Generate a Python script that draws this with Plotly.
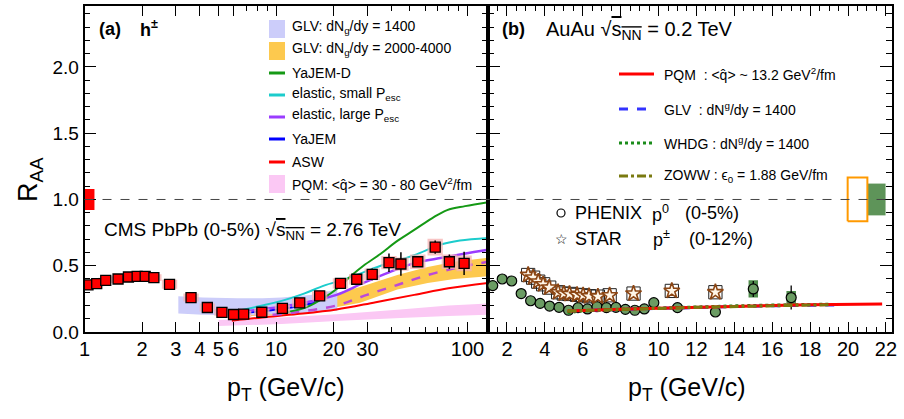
import plotly.graph_objects as go

W, H = 904, 419
FONT = "Liberation Sans, Arial, Helvetica, sans-serif"
NARROW = "Liberation Sans Narrow, Arial Narrow, Liberation Sans, Arial, sans-serif"

# ---------------- data: panel (a) CMS PbPb ----------------
cms_pt = [1.043, 1.158, 1.291, 1.497, 1.696, 1.883, 2.074, 2.303, 2.78, 3.6, 4.38, 5.22, 6.0,
          6.78, 8.43, 10.8, 13.3, 16.9, 21.7, 26.4, 31.8, 38.9, 44.9, 55.0, 67.8, 80.4, 96.0]
cms_raa = [0.355, 0.365, 0.39, 0.40, 0.415, 0.42, 0.42, 0.41, 0.36, 0.26, 0.185, 0.148, 0.132,
           0.135, 0.149, 0.178, 0.22, 0.273, 0.367, 0.398, 0.435, 0.523, 0.513, 0.53, 0.64, 0.53, 0.518]
cms_stat = [0.005, 0.005, 0.005, 0.005, 0.005, 0.005, 0.005, 0.005, 0.005, 0.005, 0.005, 0.005, 0.005,
            0.005, 0.005, 0.006, 0.008, 0.01, 0.015, 0.03, 0.045, 0.07, 0.088, 0.02, 0.05, 0.055, 0.088]
cms_syst = [0.02, 0.02, 0.02, 0.02, 0.02, 0.02, 0.022, 0.025, 0.034, 0.03, 0.03, 0.025, 0.025,
            0.025, 0.028, 0.03, 0.033, 0.035, 0.038, 0.04, 0.045, 0.05, 0.05, 0.054, 0.063, 0.055, 0.06]
cms_norm_pt = [1.0]
cms_norm_unc = [0.08]

# theory, panel (a)
glv1400_pt = [3.09, 4.15, 6.31, 8.51, 10.7, 15.1, 20.9]
glv1400_hi = [0.27, 0.26, 0.255, 0.255, 0.26, 0.28, 0.32]
glv1400_lo = [0.14, 0.13, 0.125, 0.13, 0.135, 0.145, 0.16]

glvhigh_pt = [7.4, 12.9, 19.3, 27.5, 43.0, 62.0, 85.4, 128.0]
glvhigh_hi = [0.16, 0.2, 0.28, 0.34, 0.43, 0.49, 0.53, 0.56]
glvhigh_lo = [0.12, 0.14, 0.18, 0.22, 0.32, 0.37, 0.40, 0.42]
glvhigh_mid_pt = [9.59, 12.9, 20.7, 29.8, 43.0, 62.0, 91.3, 128.0]
glvhigh_mid = [0.13, 0.15, 0.2, 0.28, 0.355, 0.43, 0.49, 0.53]

yajemd_pt = [10.1, 14.0, 17.4, 21.0, 24.5, 28.6, 35.2, 42.3, 52.7, 65.5, 78.3, 97.1, 128.0]
yajemd_raa = [0.14, 0.18, 0.25, 0.33, 0.42, 0.5, 0.59, 0.68, 0.77, 0.86, 0.92, 0.95, 0.98]

el_small_pt = [6.53, 8.49, 10.7, 14.0, 17.8, 23.6, 31.0, 35.2, 52.7, 72.5, 91.3, 128.0]
el_small_raa = [0.165, 0.2, 0.235, 0.29, 0.35, 0.405, 0.47, 0.5, 0.58, 0.66, 0.69, 0.71]

el_large_pt = [6.31, 10.7, 15.1, 20.7, 28.6, 38.9, 52.7, 73.7, 95.9, 128.0]
el_large_raa = [0.15, 0.19, 0.23, 0.28, 0.37, 0.45, 0.52, 0.56, 0.59, 0.62]

yajem_pt = [6.3, 9.0, 12.0, 16.0]
yajem_raa = [0.14, 0.16, 0.185, 0.22]

asw_pt = [5.88, 8.49, 12.9, 20.7, 33.2, 52.7, 79.5, 128.0]
asw_raa = [0.085, 0.11, 0.135, 0.17, 0.225, 0.28, 0.33, 0.37]

pqm_lhc_pt = [5.01, 10.7, 21.8, 44.6, 79.5, 128.0]
pqm_lhc_hi = [0.09, 0.11, 0.135, 0.17, 0.2, 0.215]
pqm_lhc_lo = [0.045, 0.06, 0.085, 0.105, 0.12, 0.13]

# ---------------- data: panel (b) AuAu ----------------
phenix_pt = [1.25, 1.75, 2.25, 2.75, 3.25, 3.75, 4.25, 4.75, 5.25, 5.75, 6.25, 6.75, 7.25, 7.75,
             8.25, 8.75, 9.25, 9.75, 11.0, 13.0, 15.0, 17.0]
phenix_raa = [0.35, 0.40, 0.385, 0.29, 0.236, 0.216, 0.196, 0.186, 0.164, 0.184, 0.174, 0.191,
              0.184, 0.186, 0.171, 0.164, 0.174, 0.221, 0.184, 0.151, 0.325, 0.26]
phenix_stat = [0.005] * 18 + [0.01, 0.03, 0.06, 0.09]
phenix_syst = [0.02] * 18 + [0.02, 0.02, 0.065, 0.05]

star_pt = [3.12, 3.38, 3.65, 3.91, 4.23, 4.7, 5.0, 5.3, 5.7, 6.02, 6.33, 6.8, 7.42, 8.68, 10.7, 13.0]
star_raa = [0.43, 0.41, 0.38, 0.36, 0.335, 0.30, 0.29, 0.287, 0.28, 0.277, 0.27, 0.267, 0.277,
            0.29, 0.31, 0.30]
star_syst = [0.05] * 16

phenix_norm_pt = [21.5]
phenix_norm_unc = [0.12]
star_norm_pt = [20.5]
star_norm_unc = [0.165]

pqm_rhic_pt = [5.2, 6, 8, 10, 12, 14, 16, 18, 20, 21.8]
pqm_rhic_raa = [0.158, 0.163, 0.171, 0.18, 0.188, 0.195, 0.2, 0.205, 0.209, 0.212]
glv_rhic_pt = [5.5, 6, 8, 10, 12, 14, 16, 18, 19.5]
glv_rhic_raa = [0.16, 0.163, 0.17, 0.178, 0.186, 0.193, 0.198, 0.202, 0.205]
whdg_pt = [5.2, 6, 8, 10, 12, 14, 16, 18, 19]
whdg_raa = [0.145, 0.16, 0.172, 0.182, 0.19, 0.197, 0.203, 0.208, 0.21]
zoww_pt = [5.2, 6, 8, 10, 12, 14, 16, 18, 19]
zoww_raa = [0.158, 0.162, 0.17, 0.178, 0.186, 0.193, 0.199, 0.204, 0.206]

x_ticks_a = [1, 2, 3, 4, 5, 6, 10, 20, 30, 100]
x_minor_a = [7, 8, 9, 40, 50, 60, 70, 80, 90]
x_ticks_b = list(range(2, 23, 2))

# ---------------- helpers ----------------
BOX_DEX = 0.04     # half width of CMS systematic boxes (log10 units)
NORM_DEX = 0.052   # width of CMS normalisation box (log10 units)
BOX_LIN_PH = 0.25  # half width PHENIX boxes
BOX_LIN_ST = 0.35  # half width STAR boxes


def rects(xc, yc, hx, hy, logx=False):
    xs, ys = [], []
    for x, y, dy in zip(xc, yc, hy):
        if logx:
            x0, x1 = x / 10 ** hx, x * 10 ** hx
        else:
            x0, x1 = x - hx, x + hx
        xs += [x0, x1, x1, x0, x0, None]
        ys += [y - dy, y - dy, y + dy, y + dy, y - dy, None]
    return xs, ys


def band(x, hi, lo):
    return list(x) + list(x)[::-1] + [x[0]], list(hi) + list(lo)[::-1] + [hi[0]]


def px(x):
    return x / W


def py(y):
    return 1 - y / H


fig = go.Figure()
A = dict(xaxis="x", yaxis="y")
B = dict(xaxis="x2", yaxis="y2")

# ---- panel (a) bands ----
bx, by = band(pqm_lhc_pt, pqm_lhc_hi, pqm_lhc_lo)
fig.add_trace(go.Scatter(x=bx, y=by, fill="toself", fillcolor="#fbc8f4", mode="none", **A))
bx, by = band(glvhigh_pt, glvhigh_hi, glvhigh_lo)
fig.add_trace(go.Scatter(x=bx, y=by, fill="toself", fillcolor="#fdc94e", mode="none", **A))
bx, by = band(glv1400_pt, glv1400_hi, glv1400_lo)
fig.add_trace(go.Scatter(x=bx, y=by, fill="toself", fillcolor="#cccdfa", mode="none", **A))

# ---- panel (a) lines ----
fig.add_trace(go.Scatter(x=yajem_pt, y=yajem_raa, mode="lines", line=dict(color="#0000ff", width=2), **A))
fig.add_trace(go.Scatter(x=asw_pt, y=asw_raa, mode="lines", line=dict(color="#ff0000", width=2), line_shape="spline", **A))
fig.add_trace(go.Scatter(x=glvhigh_mid_pt, y=glvhigh_mid, mode="lines", line=dict(color="#bb4ad8", width=2.5, dash="dash"), line_shape="spline", **A))
fig.add_trace(go.Scatter(x=el_large_pt, y=el_large_raa, mode="lines", line=dict(color="#9a3cff", width=2.5), line_shape="spline", **A))
fig.add_trace(go.Scatter(x=el_small_pt, y=el_small_raa, mode="lines", line=dict(color="#1ccccc", width=2), line_shape="spline", **A))
fig.add_trace(go.Scatter(x=yajemd_pt, y=yajemd_raa, mode="lines", line=dict(color="#159915", width=2), line_shape="spline", **A))

# ---- CMS data ----
sx, sy = rects(cms_pt, cms_raa, BOX_DEX, cms_syst, logx=True)
fig.add_trace(go.Scatter(x=sx, y=sy, fill="toself", fillcolor="rgba(246,176,176,0.75)", mode="none", **A))
fig.add_trace(go.Scatter(x=cms_pt, y=cms_raa, mode="markers",
                         marker=dict(symbol="square", size=10, color="#ff0000", line=dict(color="black", width=1.3)),
                         error_y=dict(type="data", array=cms_stat, color="black", thickness=1.5, width=0), **A))
p0 = cms_norm_pt[0]
u0 = cms_norm_unc[0]
norm_x = [p0, p0 * 10 ** NORM_DEX, p0 * 10 ** NORM_DEX, p0, p0]
norm_y = [1 - u0, 1 - u0, 1 + u0, 1 + u0, 1 - u0]
fig.add_trace(go.Scatter(x=norm_x, y=norm_y, fill="toself", fillcolor="#ff0000", mode="none", **A))

# ---- panel (b) ----
gx, gy = rects(phenix_norm_pt, [1.0], 0.48, phenix_norm_unc)
fig.add_trace(go.Scatter(x=gx, y=gy, fill="toself", fillcolor="#5e9459", mode="none", **B))
ox, oy = rects(star_norm_pt, [1.0], 0.52, star_norm_unc)
fig.add_trace(go.Scatter(x=ox, y=oy, mode="lines", line=dict(color="#ff9900", width=2), **B))

stx, sty = rects(star_pt, star_raa, BOX_LIN_ST, star_syst)
fig.add_trace(go.Scatter(x=stx, y=sty, mode="lines", line=dict(color="#222222", width=1), **B))

phx, phy = rects(phenix_pt, phenix_raa, BOX_LIN_PH, phenix_syst)
fig.add_trace(go.Scatter(x=phx, y=phy, fill="toself", fillcolor="#4f8c4b", mode="none", **B))
fig.add_trace(go.Scatter(x=phenix_pt, y=phenix_raa, mode="markers",
                         marker=dict(symbol="circle", size=10, color="#6b9c63", line=dict(color="black", width=1.2)),
                         error_y=dict(type="data", array=phenix_stat, color="black", thickness=1.3, width=0), **B))
fig.add_trace(go.Scatter(x=star_pt, y=star_raa, mode="markers",
                         marker=dict(symbol="star", size=12, color="#fff6e8", line=dict(color="#8b4513", width=1.6)), **B))

fig.add_trace(go.Scatter(x=whdg_pt, y=whdg_raa, mode="lines", line=dict(color="#1a8c1a", width=3, dash="dot"), **B))
fig.add_trace(go.Scatter(x=glv_rhic_pt, y=glv_rhic_raa, mode="lines", line=dict(color="#3333ff", width=3, dash="dash"), **B))
fig.add_trace(go.Scatter(x=pqm_rhic_pt, y=pqm_rhic_raa, mode="lines", line=dict(color="#ff0000", width=3), **B))
fig.add_trace(go.Scatter(x=zoww_pt, y=zoww_raa, mode="lines", line=dict(color="#7a7a10", width=3, dash="dashdot"), **B))

# ---------------- axes ----------------
x0a, x1a, x1b = 84.5 / W, 488 / W, 892 / W
ydom = [1 - 332 / H, 1 - 6 / H]
common = dict(showline=True, linecolor="black", linewidth=1.5, ticks="inside", tickcolor="black",
              showgrid=False, zeroline=False, automargin=False)
fig.update_layout(
    width=W, height=H, margin=dict(l=0, r=0, t=0, b=0, autoexpand=False),
    paper_bgcolor="white", plot_bgcolor="white", showlegend=False,
    font=dict(family=FONT, color="black"),
    xaxis=dict(type="log", range=[0, 2.107], domain=[x0a, x1a], anchor="y", mirror="ticks",
               tickvals=x_ticks_a, ticktext=[str(v) for v in x_ticks_a], ticklen=10, tickwidth=1,
               tickfont=dict(size=20, family=NARROW), ticklabelstandoff=-2,
               minor=dict(tickvals=x_minor_a, ticks="inside", ticklen=5, tickcolor="black"), **common),
    yaxis=dict(range=[0, 2.46], domain=ydom, anchor="x", mirror="ticks", dtick=0.5, tick0=0,
               tickformat=".1f", ticklen=12, tickfont=dict(size=19),
               minor=dict(dtick=0.1, ticks="inside", ticklen=6, tickcolor="black"), **common),
    xaxis2=dict(range=[1, 22.32], domain=[x1a, x1b], anchor="y2", mirror="ticks",
                tickvals=x_ticks_b, ticklen=10, tickfont=dict(size=20, family=NARROW),
                ticklabelstandoff=-2,
                minor=dict(dtick=0.5, tick0=1, ticks="inside", ticklen=5, tickcolor="black"), **common),
    yaxis2=dict(range=[0, 2.46], domain=ydom, anchor="x2", mirror="ticks", dtick=0.5, tick0=0,
                ticklen=12, showticklabels=False,
                minor=dict(dtick=0.1, ticks="inside", ticklen=6, tickcolor="black"), **common),
)

shapes = []
annots = []

# reference line R=1
shapes.append(dict(type="line", xref="paper", yref="y", x0=x0a, x1=x1b, y0=1, y1=1,
                   line=dict(color="#444444", width=1, dash="dash")))


def txt(x, y, s, size=14, anchor="left", **kw):
    annots.append(dict(x=px(x), y=py(y), xref="paper", yref="paper", text=s, showarrow=False,
                       xanchor=anchor, yanchor="middle", font=dict(size=size, family=FONT, color="black"), **kw))


# axis titles
txt(30, 180, "R<sub>AA</sub>", size=27, anchor="center", textangle=-90)
txt(286, 389, "p<sub>T</sub> (GeV/c)", size=25, anchor="center")
txt(687, 389, "p<sub>T</sub> (GeV/c)", size=25, anchor="center")

# panel labels
txt(97, 29, "<b>(a)</b>", size=18)
txt(138, 29, "<b>h<sup>±</sup></b>", size=18)
txt(500, 29, "<b>(b)</b>", size=18)
OV = "<span style='text-decoration:overline'>s<sub>NN</sub></span>"
txt(544, 31, "AuAu √" + OV + " = 0.2 TeV", size=20)
txt(102, 231, "CMS PbPb (0-5%) √" + OV + " = 2.76 TeV", size=19)

# panel (a) legend
sw_x0, sw_x1, tx = 269, 285, 290
leg_a = [
    ("band", "#cccdfa", 29, 27, "GLV: dN<sub>g</sub>/dy = 1400"),
    ("band", "#fdc94e", 51, 49, "GLV: dN<sub>g</sub>/dy = 2000-4000"),
    ("line", "#159915", 73, 73, "YaJEM-D"),
    ("line", "#1ccccc", 95, 94, "elastic, small P<sub>esc</sub>"),
    ("line", "#9a3cff", 117, 115, "elastic, large P<sub>esc</sub>"),
    ("line", "#0000ff", 139, 139, "YaJEM"),
    ("line", "#ff0000", 162, 162, "ASW"),
    ("band", "#fbc8f4", 184, 184, "PQM: &lt;q̂&gt; = 30 - 80 GeV<sup>2</sup>/fm"),
]
for kind, col, ys, yt, label in leg_a:
    if kind == "band":
        shapes.append(dict(type="rect", xref="paper", yref="paper", x0=px(sw_x0), x1=px(sw_x1),
                           y0=py(ys + 9), y1=py(ys - 9), fillcolor=col, line=dict(width=0)))
    else:
        shapes.append(dict(type="line", xref="paper", yref="paper", x0=px(sw_x0), x1=px(sw_x1),
                           y0=py(ys), y1=py(ys), line=dict(color=col, width=3)))
    txt(tx, yt, label, size=14)

# panel (b) legend
leg_b = [
    ("#ff0000", "solid", 74, "PQM  : &lt;q̂&gt; ~ 13.2 GeV<sup>2</sup>/fm"),
    ("#3333ff", "dash", 109, "GLV  : dN<sup>g</sup>/dy = 1400"),
    ("#1a8c1a", "dot", 143, "WHDG : dN<sup>g</sup>/dy = 1400"),
    ("#7a7a10", "dashdot", 176, "ZOWW : ϵ<sub>0</sub> = 1.88 GeV/fm"),
]
for col, dash, yy, label in leg_b:
    shapes.append(dict(type="line", xref="paper", yref="paper", x0=px(619), x1=px(654),
                       y0=py(yy), y1=py(yy), line=dict(color=col, width=3, dash=dash)))
    txt(662, yy, label, size=14)

shapes.append(dict(type="circle", xref="paper", yref="paper", x0=px(557), x1=px(565),
                   y0=py(217), y1=py(209), line=dict(color="black", width=1.2)))
txt(573, 213, "PHENIX", size=18)
txt(650, 213, "p<sup>0</sup>", size=18)
txt(683, 213, "(0-5%)", size=18)
txt(561, 239, "☆", size=14, anchor="center")
txt(573, 239, "STAR", size=18)
txt(651, 239, "p<sup>±</sup>", size=18)
txt(687, 239, "(0-12%)", size=18)

fig.update_layout(shapes=shapes, annotations=annots)
fig.write_html("out.html")
